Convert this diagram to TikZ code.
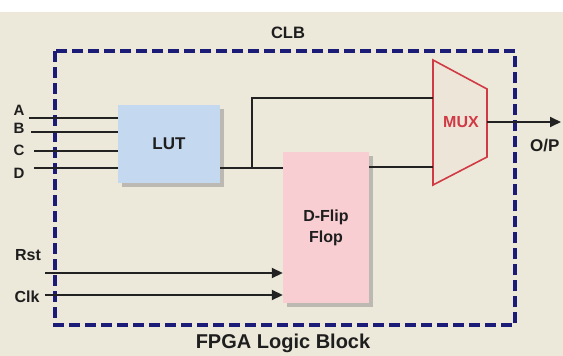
\documentclass[tikz,border=0pt]{standalone}
\usepackage{fontspec}
\setmainfont{Liberation Sans}
\usetikzlibrary{arrows.meta,positioning,calc,shadows}
\definecolor{sfondo}{RGB}{236,233,218}
\definecolor{bordoclb}{RGB}{28,28,120}
\definecolor{filonero}{RGB}{34,34,34}
\definecolor{lutblu}{RGB}{196,216,240}
\definecolor{ffrosa}{RGB}{248,206,210}
\definecolor{muxrosso}{RGB}{208,58,68}
\definecolor{testo}{RGB}{30,30,30}
\tikzset{
  blocco/.style={inner sep=0pt,text=testo,align=center,
    drop shadow={shadow xshift=4pt,shadow yshift=-4pt,fill=black!50,opacity=.45}},
  filo/.style={draw=filonero,line width=1.8pt},
  freccia/.style={filo,-{Triangle[length=11pt,width=10pt]}},
  etich/.style={font=\bfseries\fontsize{15}{15}\selectfont,text=testo,inner sep=0pt}
}

\begin{document}
\begin{tikzpicture}[x=1pt,y=-1pt]
  \fill[sfondo] (0,0) rectangle (563,356);
  \fill[white] (0,0) rectangle (563,12);
  \useasboundingbox (0,0) rectangle (563,356);
  % blocco CLB
  \draw[bordoclb,line width=3.5pt,dash pattern=on 11pt off 5pt] (55,51) rectangle (515,325);
  \node[etich,font=\bfseries\fontsize{16.5}{16.5}\selectfont] (clb) at (288,33) {CLB};
  \node[etich,font=\bfseries\fontsize{20}{20}\selectfont] (fpga) at (283,343) {FPGA Logic Block};
  % LUT e flip-flop
  \node[blocco,fill=lutblu,minimum width=102pt,minimum height=78pt,
    font=\bfseries\fontsize{17}{17}\selectfont] (lut) at (169,144) {LUT};
  \node[blocco,fill=ffrosa,minimum width=86pt,minimum height=151pt,
    font=\bfseries\fontsize{16}{21}\selectfont] (dff) at (326,227.5) {D-Flip\\Flop};
  % MUX
  \coordinate (m1) at (433,60);
  \coordinate (m2) at (487,89);
  \coordinate (m3) at (487,157);
  \coordinate (m4) at (433,185);
  \draw[muxrosso,line width=1.6pt,fill=sfondo!85!ffrosa] (m1) -- (m2) -- (m3) -- (m4) -- cycle;
  \node[etich,text=muxrosso,font=\bfseries\fontsize{16}{16}\selectfont] (mux) at (461,122) {MUX};
  \coordinate (muxa) at (433,98);
  \coordinate (muxb) at (433,167);
  \coordinate (muxo) at (487,122);
  % ingressi LUT
  \foreach \nome/\ly/\fy/\fx in {A/110/118/29,B/128/132/31,C/150/151/34,D/173/168/34}{
    \node[etich] (lab\nome) at (19,\ly) {\nome};
    \coordinate (in\nome) at (\fx,\fy);
    \draw[filo] (in\nome) -- (in\nome -| lut.west);
  }
  % collegamenti
  \coordinate (q) at (0,168);
  \coordinate (nodo) at (252,168);
  \draw[filo] (lut.east |- q) -- (dff.west |- q);
  \draw[filo] (nodo) |- (muxa);
  \draw[filo] (dff.east |- muxb) -- (muxb);
  \coordinate (uscita) at (561,122);
  \draw[freccia] (muxo) -- (uscita);
  \node[etich,anchor=west,font=\bfseries\fontsize{17}{17}\selectfont] (op) at (530,146) {O/P};
  % reset e clock
  \node[etich,font=\bfseries\fontsize{16}{16}\selectfont] (rst) at (28,255) {Rst};
  \node[etich,font=\bfseries\fontsize{16}{16}\selectfont] (clk) at (27,297) {Clk};
  \coordinate (rstin) at (45,273);
  \coordinate (clkin) at (45,295);
  \draw[freccia] (rstin) -- (rstin -| dff.west);
  \draw[freccia] (clkin) -- (clkin -| dff.west);
\end{tikzpicture}
\end{document}
